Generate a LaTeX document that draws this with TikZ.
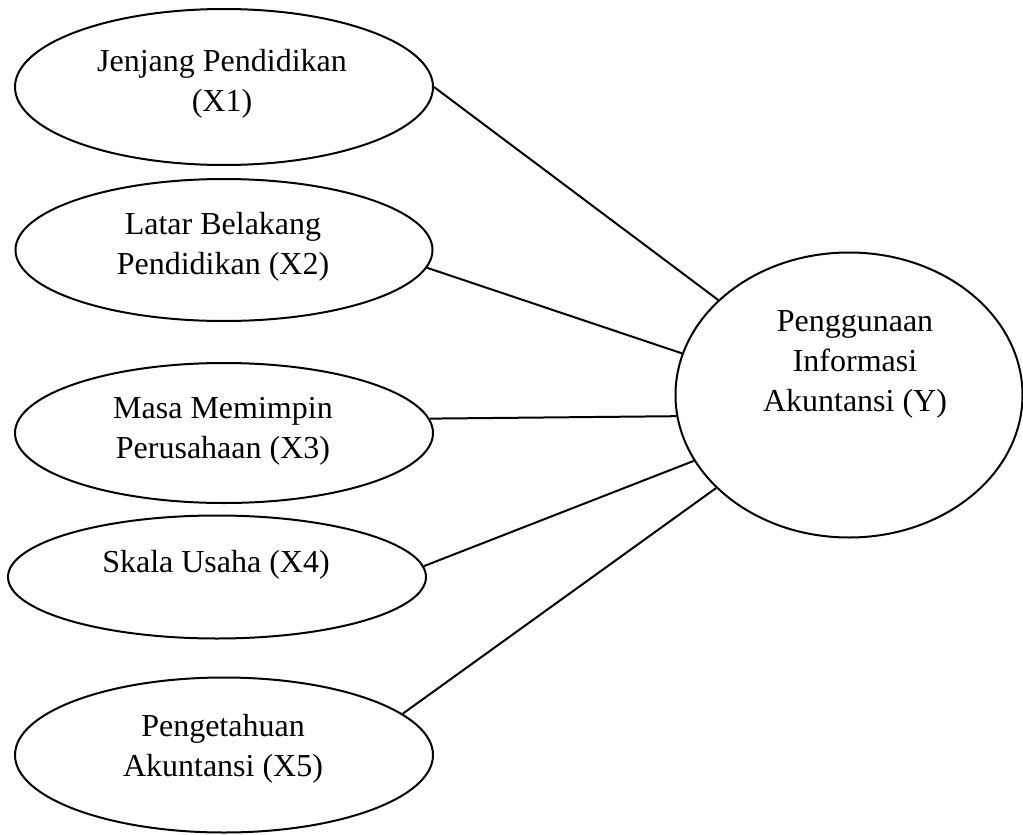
\documentclass[tikz,border=0pt]{standalone}
\usepackage{fontspec}
\setmainfont{Liberation Serif}
\usepackage{tikz}
\usetikzlibrary{shapes.geometric}
\tikzset{variabel/.style={ellipse,draw,line width=1pt,inner sep=0pt},
         teks/.style={align=center,font=\fontsize{16}{20}\selectfont}}

\begin{document}
\begin{tikzpicture}[x=0.5pt,y=-0.5pt]
                   \useasboundingbox (0,0) rectangle (1023,835);
                   % variabel bebas
                   \node[variabel,minimum width=209pt,minimum height=78pt] (x1) at (224,87) {};
                   \node[variabel,minimum width=208.5pt,minimum height=71pt] (x2) at (224,250) {};
                   \node[variabel,minimum width=209pt,minimum height=70pt] (x3) at (224,433) {};
                   \node[variabel,minimum width=209pt,minimum height=61.5pt] (x4) at (217,577) {};
                   \node[variabel,minimum width=209pt,minimum height=77.5pt] (x5) at (224,755) {};
                   % variabel terikat
                   \node[variabel,minimum width=173.5pt,minimum height=142.5pt] (y) at (849,395) {};
                   \node[teks] (x1_teks) at (222,84) {Jenjang Pendidikan\\(X1)};
                   \node[teks] (x2_teks) at (223,247) {Latar Belakang\\Pendidikan (X2)};
                   \node[teks] (x3_teks) at (223,431) {Masa Memimpin\\Perusahaan (X3)};
                   \node[teks] (x4_teks) at (216,565) {Skala Usaha (X4)};
                   \node[teks] (x5_teks) at (223,749) {Pengetahuan\\Akuntansi (X5)};
                   \node[teks] (y_teks) at (855,364) {Penggunaan\\Informasi\\Akuntansi (Y)};
                    \path[line width=1pt]
                    (x1.east) edge (y.144)
                    (x2.-5) edge (y.166)
                    (x3.4) edge (y.187)
                    (x4.3) edge (y.203)
                    (x5.13) edge (y.215);
                \end{tikzpicture}
\end{document}
